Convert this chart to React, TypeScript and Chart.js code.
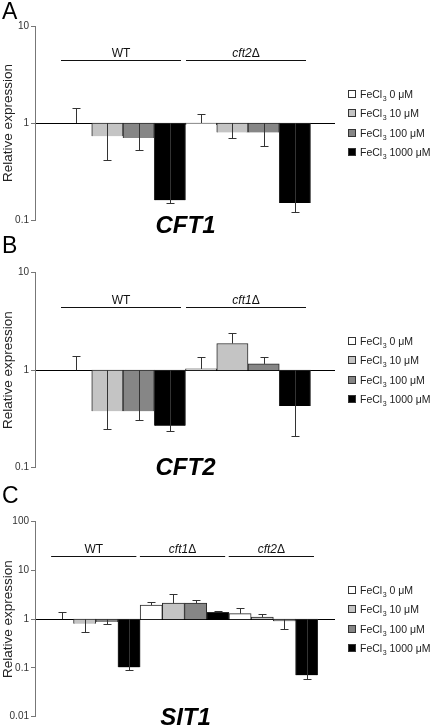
import React, { useEffect, useRef } from 'react';
import { Chart, registerables } from 'chart.js';

Chart.register(...registerables);

const FONT = "'Liberation Sans', Arial, Helvetica, sans-serif";
Chart.defaults.font.family = FONT;

// ---- shared series ----
const seriesConcentrations = ['0', '10', '100', '1000'];
const seriesLabels = seriesConcentrations.map((c) => `FeCl₃ ${c} μM`);
const seriesColors = ['#ffffff', '#c4c4c4', '#868686', '#000000'];

// ---- Panel A: CFT1 ----
const cft1Strains = ['WT', 'cft2Δ'];
const cft1Fe0 = [1.0, 0.96];
const cft1Fe10 = [0.73, 0.8];
const cft1Fe100 = [0.7, 0.8];
const cft1Fe1000 = [0.16, 0.15];
const cft1Err0 = [1.43, 1.25];
const cft1Err10 = [0.42, 0.7];
const cft1Err100 = [0.53, 0.58];
const cft1Err1000 = [0.15, 0.12];
const cft1YTicks = [0.1, 1, 10];

// ---- Panel B: CFT2 ----
const cft2Strains = ['WT', 'cft1Δ'];
const cft2Fe0 = [1.0, 1.03];
const cft2Fe10 = [0.38, 1.88];
const cft2Fe100 = [0.38, 1.16];
const cft2Fe1000 = [0.27, 0.43];
const cft2Err0 = [1.4, 1.37];
const cft2Err10 = [0.25, 2.41];
const cft2Err100 = [0.31, 1.37];
const cft2Err1000 = [0.24, 0.21];
const cft2YTicks = [0.1, 1, 10];

// ---- Panel C: SIT1 ----
const sit1Strains = ['WT', 'cft1Δ', 'cft2Δ'];
const sit1Fe0 = [1.0, 1.94, 1.3];
const sit1Fe10 = [0.81, 2.13, 1.1];
const sit1Fe100 = [0.88, 2.13, 0.91];
const sit1Fe1000 = [0.103, 1.39, 0.071];
const sit1Err0 = [1.43, 2.23, 1.73];
const sit1Err10 = [0.55, 3.26, 1.29];
const sit1Err100 = [0.78, 2.46, 0.63];
const sit1Err1000 = [0.091, 1.5, 0.06];
const sit1YTicks = [0.01, 0.1, 1, 10, 100];

type PanelCfg = {
  letter: string;
  gene: string;
  groups: string[];
  values: number[][];
  errors: number[][];
  yTicks: number[];
  xMin: number;
  xMax: number;
  canvasTop: number;
  canvasHeight: number;
  plotTop: number;
  plotBottom: number;
  letterBaseline: number;
  titleBaseline: number;
};

const panels: PanelCfg[] = [
  {
    letter: 'A',
    gene: 'CFT1',
    groups: cft1Strains,
    values: [cft1Fe0, cft1Fe10, cft1Fe100, cft1Fe1000],
    errors: [cft1Err0, cft1Err10, cft1Err100, cft1Err1000],
    yTicks: cft1YTicks,
    xMin: -0.704,
    xMax: 1.688,
    canvasTop: 0,
    canvasHeight: 240,
    plotTop: 26,
    plotBottom: 220,
    letterBaseline: 19,
    titleBaseline: 233,
  },
  {
    letter: 'B',
    gene: 'CFT2',
    groups: cft2Strains,
    values: [cft2Fe0, cft2Fe10, cft2Fe100, cft2Fe1000],
    errors: [cft2Err0, cft2Err10, cft2Err100, cft2Err1000],
    yTicks: cft2YTicks,
    xMin: -0.704,
    xMax: 1.688,
    canvasTop: 232,
    canvasHeight: 250,
    plotTop: 272.7,
    plotBottom: 467.7,
    letterBaseline: 253,
    titleBaseline: 475,
  },
  {
    letter: 'C',
    gene: 'SIT1',
    groups: sit1Strains,
    values: [sit1Fe0, sit1Fe10, sit1Fe100, sit1Fe1000],
    errors: [sit1Err0, sit1Err10, sit1Err100, sit1Err1000],
    yTicks: sit1YTicks,
    xMin: -0.684,
    xMax: 2.683,
    canvasTop: 480,
    canvasHeight: 248,
    plotTop: 521.7,
    plotBottom: 716.7,
    letterBaseline: 503,
    titleBaseline: 725,
  },
];

const CANVAS_W = 431;
const PLOT_LEFT = 35;
const PLOT_RIGHT = 334;

function makeDecorPlugin(cfg: PanelCfg) {
  return {
    id: 'panelDecor',
    afterDatasetsDraw(chart: any) {
      const { ctx } = chart;
      const yScale = chart.scales.y;
      ctx.save();
      ctx.strokeStyle = '#333';
      ctx.lineWidth = 1;
      chart.data.datasets.forEach((_ds: any, di: number) => {
        const meta = chart.getDatasetMeta(di);
        meta.data.forEach((bar: any, i: number) => {
          const err = cfg.errors[di][i];
          const x = Math.round(bar.x) + 0.5;
          const y = bar.y;
          const ye = Math.round(yScale.getPixelForValue(err)) + 0.5;
          ctx.beginPath();
          ctx.moveTo(x, y);
          ctx.lineTo(x, ye);
          ctx.moveTo(x - 4, ye);
          ctx.lineTo(x + 4, ye);
          ctx.stroke();
        });
      });
      ctx.restore();
    },
    afterDraw(chart: any) {
      const { ctx, chartArea } = chart;
      const xScale = chart.scales.x;
      ctx.save();

      // Panel letter
      ctx.fillStyle = '#000';
      ctx.font = `23px ${FONT}`;
      ctx.textAlign = 'left';
      ctx.textBaseline = 'alphabetic';
      ctx.fillText(cfg.letter, 2, cfg.letterBaseline - cfg.canvasTop);

      // Gene title
      ctx.font = `italic bold 24px ${FONT}`;
      ctx.textAlign = 'center';
      ctx.fillText(cfg.gene, (chartArea.left + chartArea.right) / 2 + 1, cfg.titleBaseline - cfg.canvasTop);

      // Group labels with lines
      const groupW = xScale.getPixelForValue(1) - xScale.getPixelForValue(0);
      const lineY = Math.round(chartArea.top + 34) + 0.5;
      cfg.groups.forEach((g, i) => {
        const cx = xScale.getPixelForValue(i) - 2;
        const half = groupW * 0.48;
        ctx.strokeStyle = '#111';
        ctx.lineWidth = 1;
        ctx.beginPath();
        ctx.moveTo(cx - half, lineY);
        ctx.lineTo(cx + half, lineY);
        ctx.stroke();
        let italicPart = '';
        let normalPart = g;
        if (g.endsWith('Δ')) {
          italicPart = g.slice(0, -1);
          normalPart = 'Δ';
        }
        const fItalic = `italic 12px ${FONT}`;
        const fNormal = `12px ${FONT}`;
        ctx.font = fItalic;
        const wI = italicPart ? ctx.measureText(italicPart).width : 0;
        ctx.font = fNormal;
        const wN = ctx.measureText(normalPart).width;
        const start = cx - (wI + wN) / 2;
        ctx.textAlign = 'left';
        ctx.textBaseline = 'alphabetic';
        ctx.fillStyle = '#111';
        if (italicPart) {
          ctx.font = fItalic;
          ctx.fillText(italicPart, start, lineY - 4);
        }
        ctx.font = fNormal;
        ctx.fillText(normalPart, start + wI, lineY - 4);
      });

      // Legend
      const n = chart.data.datasets.length;
      const cy = (chartArea.top + chartArea.bottom) / 2;
      const spacing = 19.5;
      chart.data.datasets.forEach((ds: any, i: number) => {
        const yi = Math.round(cy + (i - (n - 1) / 2) * spacing);
        ctx.fillStyle = ds.backgroundColor;
        ctx.fillRect(348, yi - 4, 8, 8);
        ctx.strokeStyle = '#333';
        ctx.lineWidth = 1;
        ctx.strokeRect(348.5, yi - 3.5, 7, 7);
        const label: string = ds.label;
        const parts = label.split('₃');
        ctx.fillStyle = '#222';
        ctx.textAlign = 'left';
        ctx.textBaseline = 'alphabetic';
        const base = yi + 4;
        let x = 360;
        ctx.font = `10.5px ${FONT}`;
        ctx.fillText(parts[0], x, base);
        x += ctx.measureText(parts[0]).width;
        if (parts.length > 1) {
          ctx.font = `7px ${FONT}`;
          ctx.fillText('3', x + 0.5, base + 2.5);
          x += ctx.measureText('3').width + 0.5;
          ctx.font = `10.5px ${FONT}`;
          ctx.fillText(parts[1], x, base);
        }
      });

      ctx.restore();
    },
  };
}

function Panel({ cfg }: { cfg: PanelCfg }) {
  const ref = useRef<HTMLCanvasElement | null>(null);
  useEffect(() => {
    if (!ref.current) return;
    const datasets = cfg.values.map((vals, si) => ({
      label: seriesLabels[si],
      data: vals.map((v, gi) => ({ x: gi, y: [1, v] })),
      backgroundColor: seriesColors[si],
      borderColor: '#2a2a2a',
      borderWidth: 1,
      categoryPercentage: 1,
      barPercentage: 1,
    }));
    const yMin = cfg.yTicks[0];
    const yMax = cfg.yTicks[cfg.yTicks.length - 1];
    const chart = new Chart(ref.current, {
      type: 'bar',
      data: { datasets } as any,
      options: {
        animation: false,
        responsive: false,
        maintainAspectRatio: false,
        devicePixelRatio: 1,
        events: [],
        layout: {
          padding: {
            left: 0,
            right: CANVAS_W - PLOT_RIGHT,
            top: cfg.plotTop - cfg.canvasTop,
            bottom: cfg.canvasTop + cfg.canvasHeight - cfg.plotBottom,
          },
        },
        plugins: {
          legend: { display: false },
          tooltip: { enabled: false },
        },
        scales: {
          x: {
            type: 'linear',
            min: cfg.xMin,
            max: cfg.xMax,
            offset: false,
            position: { y: 1 } as any,
            z: 1,
            afterBuildTicks: (s: any) => {
              s.ticks = cfg.groups.map((_g, i) => ({ value: i }));
            },
            afterFit: (s: any) => {
              s.height = 0;
            },
            ticks: { display: false },
            grid: { display: false },
            border: { display: true, color: '#000', width: 1 },
          },
          y: {
            type: 'logarithmic',
            min: yMin,
            max: yMax,
            afterBuildTicks: (s: any) => {
              s.ticks = cfg.yTicks.map((v) => ({ value: v }));
            },
            afterFit: (s: any) => {
              s.width = PLOT_LEFT;
            },
            ticks: {
              autoSkip: false,
              padding: 2,
              color: '#333',
              font: { size: 10 },
              callback: (v: any) => String(Number(v)),
            },
            grid: {
              display: true,
              drawOnChartArea: false,
              drawTicks: true,
              tickLength: 4,
              color: '#777',
            },
            border: { display: true, color: '#777', width: 1 },
            title: {
              display: true,
              text: 'Relative expression',
              color: '#222',
              font: { size: 13.5 },
              padding: { top: 0, bottom: 0 },
            },
          },
        },
      } as any,
      plugins: [makeDecorPlugin(cfg)],
    });
    return () => chart.destroy();
  }, [cfg]);
  return (
    <canvas
      ref={ref}
      width={CANVAS_W}
      height={cfg.canvasHeight}
      style={{
        position: 'absolute',
        left: 0,
        top: cfg.canvasTop,
        width: CANVAS_W,
        height: cfg.canvasHeight,
        display: 'block',
      }}
    />
  );
}

export default function App() {
  return (
    <div
      style={{
        position: 'fixed',
        left: 0,
        top: 0,
        width: CANVAS_W,
        height: 728,
        background: '#fff',
        overflow: 'hidden',
      }}
    >
      {panels.map((p) => (
        <Panel key={p.letter} cfg={p} />
      ))}
    </div>
  );
}
